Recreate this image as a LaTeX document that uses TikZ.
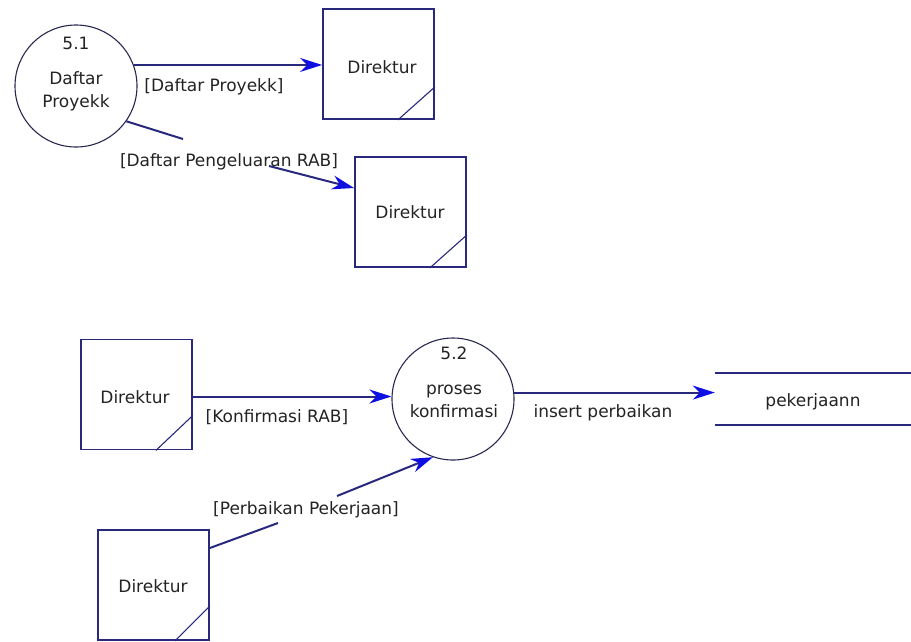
\documentclass[tikz,border=0pt]{standalone}
\usepackage{fontspec}
\setmainfont{DejaVu Sans}
\usetikzlibrary{arrows.meta,calc}
\definecolor{navy}{RGB}{40,40,125}
\definecolor{tipblue}{RGB}{15,15,225}
\definecolor{txt}{RGB}{35,35,35}
\definecolor{circ}{RGB}{40,40,80}
\begin{document}
\begin{tikzpicture}[x=1pt,y=-1pt,
  lbl/.style={font=\fontsize{17}{23}\selectfont, text=txt, inner sep=0pt},
  proc/.style={circle, draw=circ, line width=1.1pt, minimum size=122pt, inner sep=0pt},
  ent/.style={rectangle, draw=navy, line width=1.8pt, minimum width=111pt, minimum height=110pt, inner sep=0pt},
  flow/.style={draw=navy, line width=2pt},
  flowtip/.style={flow, -{Stealth[length=22pt,width=14pt,inset=7pt,color=tipblue]}},
  cornerline/.style={draw=navy, line width=1.1pt}
]
\useasboundingbox (0,0) rectangle (911,641);

% process 5.1
\node[proc] (c51) at (76,86) {};
\node[lbl] (c51n) at (76,43) {5.1};
\node[lbl, align=center] (c51t) at (76,91) {Daftar\\Proyekk};

% entity boxes
\node[ent] (b1) at (378.5,64) {};
\node[lbl] (b1t) at (382,67) {Direktur};
\draw[cornerline] ([yshift=33pt]b1.south east) -- ([xshift=-37pt]b1.south east);

\node[ent] (b2) at (410.5,212) {};
\node[lbl] (b2t) at (410,212) {Direktur};
\draw[cornerline] ([yshift=33pt]b2.south east) -- ([xshift=-37pt]b2.south east);

\node[ent] (b3) at (136.5,394.5) {};
\node[lbl] (b3t) at (135,397) {Direktur};
\draw[cornerline] ([yshift=35pt]b3.south east) -- ([xshift=-37pt]b3.south east);

\node[ent] (b4) at (153.5,585) {};
\node[lbl] (b4t) at (153,586) {Direktur};
\draw[cornerline] ([yshift=35pt]b4.south east) -- ([xshift=-35pt]b4.south east);

% process 5.2
\node[proc] (c52) at (453,399) {};
\node[lbl] (c52n) at (454,353) {5.2};
\node[lbl, align=center] (c52t) at (454,401) {proses\\konfirmasi};

% data store
\node[minimum width=200pt, minimum height=52pt, inner sep=0pt] (st) at (815,399) {};
\node[lbl] (stt) at (813,402) {pekerjaann};
\draw[navy, line width=1.8pt] (st.north west) -- (st.north east)
                             (st.south west) -- (st.south east);

% flows
\draw[flowtip] (c51.20) -- (c51.20 -| b1.west);
\node[lbl] (l1) at (214,87) {[Daftar Proyekk]};

\coordinate (g2a) at (183,139);
\coordinate (g2b) at (269,166);
\draw[flow] (c51.-35) -- (g2a);
\draw[flowtip] (g2b) -- (b2.west |- 0,188);
\node[lbl] (l2) at (229,162) {[Daftar Pengeluaran RAB]};

\draw[flowtip] ([yshift=-2pt]b3.east) -- ([yshift=-2pt]b3.east -| c52.west);
\node[lbl] (l3) at (277,417) {[Konfirmasi RAB]};

\coordinate (g4a) at (278,523);
\coordinate (g4b) at (337,496);
\draw[flow] ([yshift=37pt]b4.east) -- (g4a);
\draw[flowtip] (g4b) -- (c52.-109);
\node[lbl] (l4) at (306,510) {[Perbaikan Pekerjaan]};

\draw[flowtip] (c52.6) -- (c52.6 -| st.west);
\node[lbl] (l5) at (603,413) {insert perbaikan};
\end{tikzpicture}
\end{document}
